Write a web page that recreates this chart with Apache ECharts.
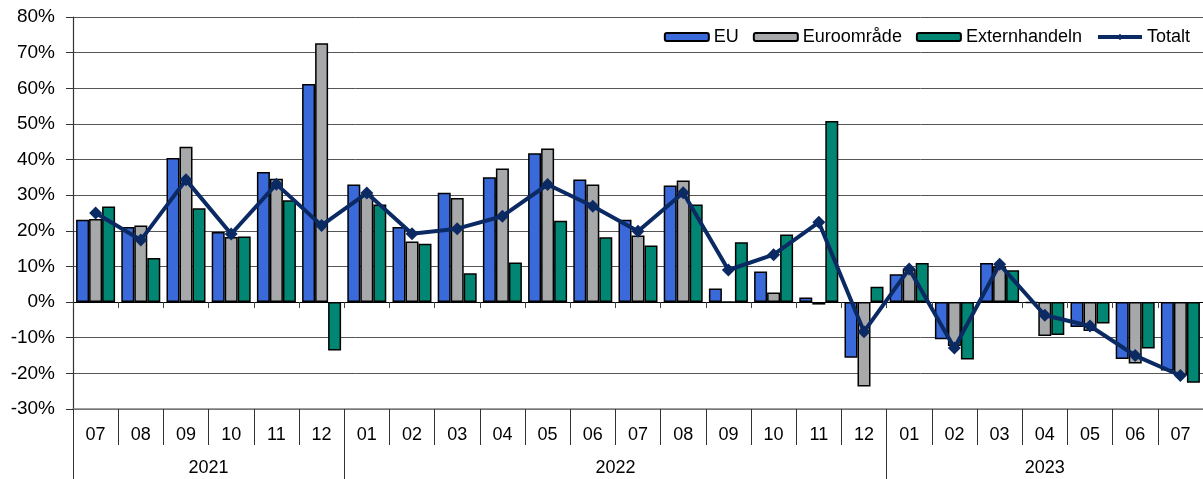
<!DOCTYPE html>
<html>
<head>
<meta charset="utf-8">
<script src="https://cdn.jsdelivr.net/npm/echarts@6/dist/echarts.min.js"></script>
<style>
html,body{margin:0;padding:0;background:#fff;}
#chart{width:1203px;height:479px;}
</style>
</head>
<body>
<div id="chart"></div>
<script>
const months = ['07','08','09','10','11','12','01','02','03','04','05','06','07','08','09','10','11','12','01','02','03','04','05','06','07'];
const years = ['2021','2022','2023'];
const monthsPerYear = [6, 12, 7];
const eu   = [23.1, 21.1, 40.4, 19.7, 36.5, 61.2, 33.0, 21.1, 30.7, 35.0, 41.8, 34.4, 23.1, 32.7, 3.8, 8.6, 1.3, -15.6, 7.8, -10.4, 11.0, -0.2, -7.0, -16.0, -19.2];
const euro = [23.3, 21.5, 43.6, 18.3, 34.6, 72.6, 30.2, 17.0, 29.2, 37.5, 43.1, 33.0, 18.7, 34.1, 0.1, 2.7, -0.7, -23.7, 9.2, -12.3, 10.0, -9.5, -8.1, -17.2, -20.5];
const ext  = [26.8, 12.4, 26.3, 18.4, 28.6, -13.6, 27.4, 16.4, 8.1, 11.1, 22.8, 18.2, 15.9, 27.4, 16.8, 19.0, 50.8, 4.3, 11.0, -16.1, 8.9, -9.2, -6.0, -13.0, -22.6];
const total = [25.0, 17.4, 34.3, 19.1, 33.1, 21.5, 30.6, 19.2, 20.6, 24.1, 33.0, 26.9, 19.9, 30.7, 9.0, 13.3, 22.4, -8.3, 9.3, -12.9, 10.6, -3.7, -6.7, -15.0, -20.6];
const yTicks = {min: -30, max: 80, interval: 10};

// year layer: half-month points, labels at year centres, ticks at year boundaries
const halfCount = months.length * 2 + 1;
const yearAxisData = new Array(halfCount).fill('');
const yearBoundaries = [0];
let start = 0;
years.forEach((y, i) => {
  const n = monthsPerYear[i];
  yearAxisData[start * 2 + n] = y;
  start += n;
  yearBoundaries.push(start * 2);
});

const FONT = 'Liberation Sans, Arial, sans-serif';
const NAVY = '#0b2a63';
const chart = echarts.init(document.getElementById('chart'), null, {renderer: 'canvas'});
const barBase = {
  type: 'bar',
  barWidth: 13,
  barGap: '0%',
  xAxisIndex: 0,
  yAxisIndex: 0
};
chart.setOption({
  animation: false,
  textStyle: {fontFamily: FONT, color: '#000'},
  grid: {left: 73, right: -2, top: 17, bottom: 70, containLabel: false},
  legend: {
    right: 8,
    top: 23,
    itemWidth: 44,
    itemHeight: 8,
    itemGap: 14,
    textStyle: {fontFamily: FONT, fontSize: 18, color: '#000'},
    data: ['EU', 'Euroområde', 'Externhandeln',
      {name: 'Totalt', lineStyle: {width: 4, color: NAVY}, itemStyle: {color: NAVY}}]
  },
  xAxis: [
    {
      type: 'category',
      data: months,
      position: 'bottom',
      axisLine: {onZero: true, lineStyle: {color: '#000', width: 1}},
      axisTick: {show: true, length: 6, lineStyle: {color: '#444'}},
      axisLabel: {show: false},
      splitLine: {show: false}
    },
    {
      type: 'category',
      data: months,
      position: 'bottom',
      axisLine: {onZero: false, lineStyle: {color: '#808080', width: 1.5}},
      axisTick: {show: true, length: 36, interval: 0, lineStyle: {color: '#333'}},
      axisLabel: {interval: 0, margin: 17, fontSize: 18, color: '#000', fontFamily: FONT},
      splitLine: {show: false}
    },
    {
      type: 'category',
      data: yearAxisData,
      boundaryGap: false,
      position: 'bottom',
      axisLine: {show: false, onZero: false},
      axisTick: {show: true, length: 70, interval: (idx) => yearBoundaries.includes(idx), lineStyle: {color: '#333'}},
      axisLabel: {interval: (idx, val) => val !== '', margin: 50, fontSize: 18, color: '#000', fontFamily: FONT},
      splitLine: {show: false}
    }
  ],
  yAxis: {
    type: 'value',
    min: yTicks.min,
    max: yTicks.max,
    interval: yTicks.interval,
    axisLine: {show: true, lineStyle: {color: '#333', width: 1.2}},
    axisTick: {show: true, length: 7, lineStyle: {color: '#333'}},
    axisLabel: {formatter: '{value}%', margin: 18, fontSize: 19, color: '#000', fontFamily: FONT},
    splitLine: {show: true, lineStyle: {color: '#555', width: 1}}
  },
  series: [
    Object.assign({}, barBase, {name: 'EU', data: eu,
      itemStyle: {color: '#3a69d9', borderColor: '#000', borderWidth: 1.5}}),
    Object.assign({}, barBase, {name: 'Euroområde', data: euro,
      itemStyle: {color: '#a7a8aa', borderColor: '#000', borderWidth: 1.5}}),
    Object.assign({}, barBase, {name: 'Externhandeln', data: ext,
      itemStyle: {color: '#008672', borderColor: '#000', borderWidth: 1.5}}),
    {
      name: 'Totalt', type: 'line', data: total, xAxisIndex: 0, yAxisIndex: 0,
      symbol: 'diamond', symbolSize: 13, z: 5,
      lineStyle: {color: NAVY, width: 4},
      itemStyle: {color: NAVY}
    }
  ]
});
</script>
</body>
</html>
